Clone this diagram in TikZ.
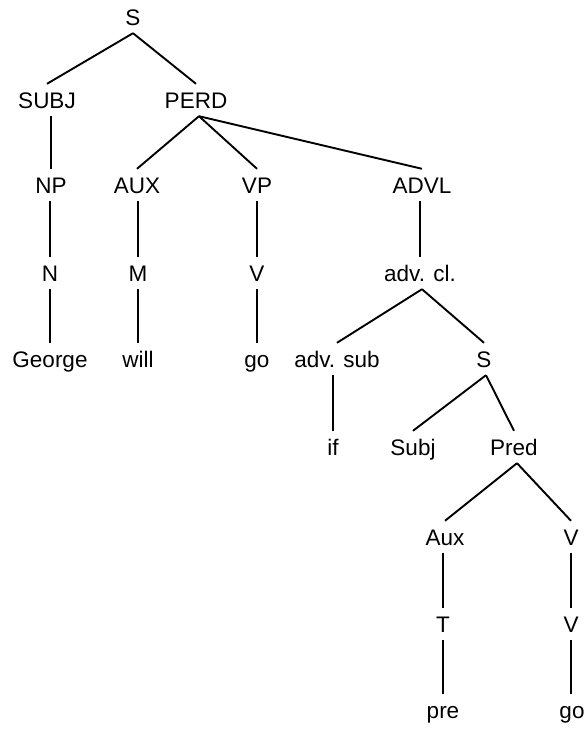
\documentclass[tikz,border=0pt]{standalone}
\usepackage{fontspec}
\setmainfont{Liberation Sans}
\begin{document}
\begin{tikzpicture}[x=1pt,y=-1pt,
  lab/.style={anchor=base,inner xsep=0pt,inner ysep=8pt,text height=16pt,text depth=0pt,
    font=\fontsize{22.5}{26}\selectfont},
  branch/.style={line width=1.9pt},
  stem/.style={line width=2.7pt}]
\useasboundingbox (0,0) rectangle (587,729);
% row 1
\node[lab] (s) at (133,25) {S};
% row 2
\node[lab] (subj) at (47,108) {SUBJ};
\node[lab] (perd) at (196,108) {PERD};
% row 3
\node[lab] (np) at (51,193) {NP};
\node[lab] (aux) at (137,193) {AUX};
\node[lab] (vp) at (257,193) {VP};
\node[lab] (advl) at (422,193) {ADVL};
% row 4
\node[lab] (n) at (50,281) {N};
\node[lab] (m) at (138,281) {M};
\node[lab] (v) at (257,281) {V};
\node[lab] (advcl) at (420,281) {adv. cl.};
% row 5
\node[lab] (george) at (50,367) {George};
\node[lab] (will) at (138,367) {will};
\node[lab] (go) at (257,367) {go};
\node[lab] (advsub) at (337,367) {adv. sub};
\node[lab] (s2) at (484,367) {S};
% row 6
\node[lab] (if) at (333,455) {if};
\node[lab] (subj2) at (413,455) {Subj};
\node[lab] (pred) at (514,455) {Pred};
% row 7
\node[lab] (aux2) at (445,545) {Aux};
\node[lab] (v2) at (571,545) {V};
% row 8
\node[lab] (t) at (443,632) {T};
\node[lab] (v3) at (571,632) {V};
% row 9
\node[lab] (pre) at (443,718) {pre};
\node[lab] (go2) at (572,718) {go};

% branching links
\draw[branch] (s.south) -- (subj.north);
\draw[branch] (s.south) -- (perd.north);
\draw[branch] ([xshift=3pt]perd.south) -- (aux.north);
\draw[branch] ([xshift=3pt]perd.south) -- (vp.north);
\draw[branch] ([xshift=3pt]perd.south) -- (advl.north);
\draw[branch] ([xshift=2pt]advcl.south) -- (advsub.north);
\draw[branch] ([xshift=2pt]advcl.south) -- (s2.north);
\draw[branch] ([xshift=2pt]s2.south) -- (subj2.north);
\draw[branch] ([xshift=2pt]s2.south) -- (pred.north);
\draw[branch] ([xshift=3pt]pred.south) -- (aux2.north);
\draw[branch] ([xshift=3pt]pred.south) -- (v2.north);

% single-child links
\draw[stem] (np.north |- subj.south) -- (np.north);
\draw[stem] (n.north |- np.south) -- (n.north);
\draw[stem] (n.south) -- (n.south |- george.north);
\draw[stem] (m.north |- aux.south) -- (m.north);
\draw[stem] (m.south) -- (m.south |- will.north);
\draw[stem] (vp.south) -- (v.north);
\draw[stem] (v.south) -- (go.north);
\draw[stem] (advcl.north |- advl.south) -- (advcl.north);
\draw[stem] (if.north |- advsub.south) -- (if.north);
\draw[stem] (t.north |- aux2.south) -- (t.north);
\draw[stem] (t.south) -- (pre.north);
\draw[stem] (v2.south) -- (v3.north);
\draw[stem] (v3.south) -- (v3.south |- go2.north);
\end{tikzpicture}
\end{document}
